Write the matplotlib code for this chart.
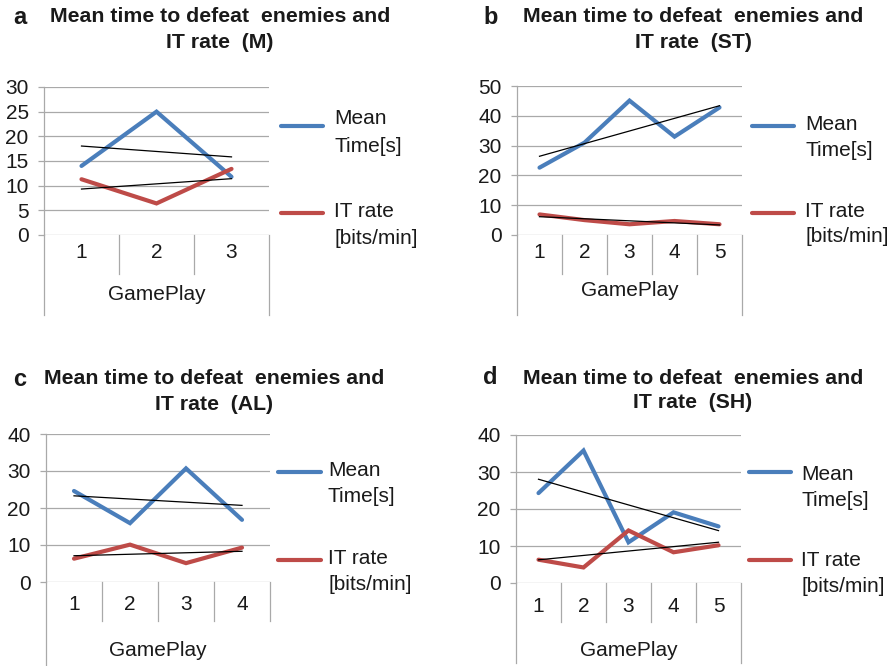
import numpy as np
import matplotlib
matplotlib.use("Agg")
import matplotlib.pyplot as plt
from matplotlib.lines import Line2D
from matplotlib.transforms import blended_transform_factory

plt.rcParams['font.family'] = ['Liberation Sans', 'DejaVu Sans']

# ---- data -------------------------------------------------------------
mean_time_M = [14.0, 25.0, 11.8]
it_rate_M = [11.3, 6.4, 13.4]

mean_time_ST = [22.6, 31.0, 45.1, 33.0, 42.8]
it_rate_ST = [6.9, 5.0, 3.6, 4.7, 3.6]

mean_time_AL = [24.6, 15.9, 30.7, 16.8]
it_rate_AL = [6.3, 10.1, 5.1, 9.3]

mean_time_SH = [24.3, 35.8, 11.0, 19.1, 15.3]
it_rate_SH = [6.3, 4.2, 14.2, 8.3, 10.2]

panel_letters = ['a', 'b', 'c', 'd']
panel_codes = ['M', 'ST', 'AL', 'SH']
y_max = [30, 50, 40, 40]
y_step = [5, 10, 10, 10]
series_names = ['Mean\nTime[s]', 'IT rate\n[bits/min]']
x_title = 'GamePlay'

# ---- styling ----------------------------------------------------------
W, H = 896, 666
BLUE = '#4A7EBB'
RED = '#BE4B48'
GRID = '#A9A9A9'
TEXT = '#1a1a1a'
FS = 15

# pixel layout of each panel: plot box, category-band extents, text rows
layout = [
    dict(box=(44, 87, 269, 235), div=274, lbot=315, rbot=315, tick_y=253, gp_y=294,
         title_x=220, title_y=(17, 43), letter=(13, 18),
         leg_line=(281, 323), leg_y=(126, 213), leg_tx=334, leg_rows=((119, 146), (212, 238))),
    dict(box=(517, 86, 742, 235), div=274, lbot=315, rbot=315, tick_y=253, gp_y=291,
         title_x=693, title_y=(16, 42), letter=(483, 17),
         leg_line=(752, 794), leg_y=(126, 213), leg_tx=805, leg_rows=((125, 150), (212, 237))),
    dict(box=(46, 434, 270, 582), div=621, lbot=666, rbot=621, tick_y=605, gp_y=650,
         title_x=214, title_y=(378, 404), letter=(13, 380),
         leg_line=(278, 321), leg_y=(472, 560), leg_tx=328, leg_rows=((471, 496), (558, 584))),
    dict(box=(516, 435, 741, 583), div=622, lbot=663, rbot=663, tick_y=606, gp_y=651,
         title_x=693, title_y=(378, 403), letter=(483, 378),
         leg_line=(749, 791), leg_y=(472, 560), leg_tx=801, leg_rows=((474, 500), (561, 587))),
]

panels = [
    (mean_time_M, it_rate_M),
    (mean_time_ST, it_rate_ST),
    (mean_time_AL, it_rate_AL),
    (mean_time_SH, it_rate_SH),
]

fig = plt.figure(figsize=(W / 100, H / 100), dpi=100)


def fx(px):
    return px / W


def fy(py):
    return 1 - py / H


for i, (times, rates) in enumerate(panels):
    L = layout[i]
    l, t, r, b = L['box']
    ax = fig.add_axes([fx(l), fy(b), fx(r - l), (b - t) / H])
    n = len(times)
    x = np.arange(1, n + 1)

    ax.set_xlim(0.5, n + 0.5)
    ax.set_ylim(0, y_max[i])
    ax.set_yticks(np.arange(0, y_max[i] + 1, y_step[i]))
    ax.tick_params(axis='y', length=4.5, width=0.9, color=GRID, pad=6.5,
                   labelsize=FS, labelcolor=TEXT)
    ax.set_xticks([])
    ax.grid(axis='y', color=GRID, lw=0.9)
    ax.set_axisbelow(True)
    for s in ['top', 'right', 'bottom']:
        ax.spines[s].set_visible(False)
    ax.spines['left'].set_color(GRID)
    ax.spines['left'].set_linewidth(0.9)

    # category band below the plot
    tr = blended_transform_factory(ax.transData, ax.transAxes)
    hpx = b - t

    def ay(py):
        return (b - py) / hpx

    ax.plot([0.5, 0.5], [0, ay(L['lbot'])], color=GRID, lw=0.9, transform=tr, clip_on=False)
    ax.plot([n + 0.5, n + 0.5], [0, ay(L['rbot'])], color=GRID, lw=0.9, transform=tr, clip_on=False)
    for k in range(1, n):
        ax.plot([k + 0.5, k + 0.5], [0, ay(L['div'])], color=GRID, lw=0.9,
                transform=tr, clip_on=False)
    for k in x:
        ax.text(k, ay(L['tick_y']), str(k), transform=tr, ha='center', va='center',
                fontsize=FS, color=TEXT)
    ax.text((n + 1) / 2, ay(L['gp_y']), x_title, transform=tr, ha='center', va='center',
            fontsize=FS, color=TEXT)

    # series
    ax.plot(x, times, color=BLUE, lw=3.0, solid_capstyle='round', solid_joinstyle='miter',
            clip_on=False, zorder=3)
    ax.plot(x, rates, color=RED, lw=3.0, solid_capstyle='round', solid_joinstyle='miter',
            clip_on=False, zorder=3)

    # linear trendlines
    for vals in (times, rates):
        k, c = np.polyfit(x, vals, 1)
        ax.plot(x[[0, -1]], k * x[[0, -1]] + c, color='black', lw=0.9, zorder=4,
                clip_on=False)

    # title and panel letter
    fig.text(fx(L['title_x']), fy(L['title_y'][0]), 'Mean time to defeat  enemies and',
             ha='center', va='center', fontsize=15.3, fontweight='bold', color=TEXT)
    fig.text(fx(L['title_x']), fy(L['title_y'][1]), f'IT rate  ({panel_codes[i]})',
             ha='center', va='center', fontsize=15.3, fontweight='bold', color=TEXT)
    fig.text(fx(L['letter'][0]), fy(L['letter'][1]), panel_letters[i],
             ha='left', va='center', fontsize=17, fontweight='bold', color=TEXT)

    # legend drawn beside the plot
    x0, x1 = L['leg_line']
    for j, col in enumerate((BLUE, RED)):
        yy = fy(L['leg_y'][j])
        fig.add_artist(Line2D([fx(x0), fx(x1)], [yy, yy], color=col, lw=3.0,
                              solid_capstyle='round', transform=fig.transFigure))
        for line_txt, row in zip(series_names[j].split('\n'), L['leg_rows'][j]):
            fig.text(fx(L['leg_tx']), fy(row), line_txt, ha='left', va='center',
                     fontsize=FS, color=TEXT)

fig.savefig('out.png', dpi=100, facecolor='white')
